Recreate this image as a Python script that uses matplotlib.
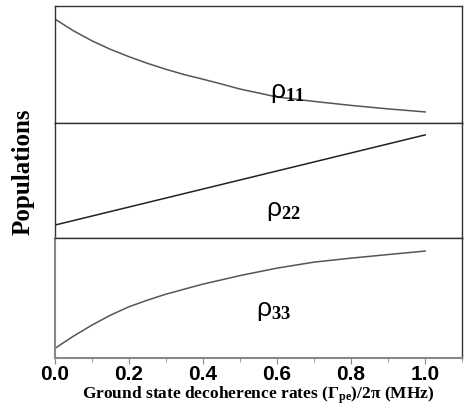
import numpy as np
import matplotlib
matplotlib.use("Agg")
import matplotlib.pyplot as plt
from matplotlib.ticker import MultipleLocator

# Ground state decoherence rate (Gamma_pe / 2pi, MHz)
rate = [0.0, 0.05, 0.1, 0.15, 0.2, 0.25, 0.3, 0.35, 0.4, 0.45, 0.5,
        0.6, 0.7, 0.8, 0.9, 1.0]
# populations (arb. units, each panel on its own scale)
rho11 = [0.889, 0.789, 0.703, 0.630, 0.567, 0.510, 0.459, 0.413, 0.374,
         0.333, 0.290, 0.222, 0.184, 0.150, 0.120, 0.094]
rho22_rate = [0.0, 1.0]
rho22 = [0.113, 0.896]
rho33 = [0.081, 0.183, 0.275, 0.358, 0.428, 0.483, 0.533, 0.575, 0.617,
         0.652, 0.688, 0.750, 0.800, 0.833, 0.863, 0.892]

plt.rcParams['mathtext.fontset'] = 'custom'
plt.rcParams['mathtext.rm'] = 'Liberation Serif'
plt.rcParams['mathtext.bf'] = 'Liberation Serif:bold'
plt.rcParams['mathtext.it'] = 'Liberation Serif:italic'
plt.rcParams['mathtext.sf'] = 'Liberation Sans'

fig = plt.figure(figsize=(4.65, 4.07), dpi=100)
L, W = 0.118, 0.876
ax1 = fig.add_axes([L, 0.698, W, 0.287])
ax2 = fig.add_axes([L, 0.415, W, 0.283])
ax3 = fig.add_axes([L, 0.120, W, 0.295])

ax1.plot(rate, rho11, color='#555555', lw=1.1)
ax2.plot(rho22_rate, rho22, color='#222222', lw=1.1)
ax3.plot(rate, rho33, color='#555555', lw=1.1)

ax1.text(0.627, 0.265, r'$\mathsf{\rho}_{\mathbf{11}}$', fontsize=19, ha='center', va='center')
ax2.text(0.616, 0.243, r'$\mathsf{\rho}_{\mathbf{22}}$', fontsize=19, ha='center', va='center')
ax3.text(0.590, 0.400, r'$\mathsf{\rho}_{\mathbf{33}}$', fontsize=19, ha='center', va='center')

for ax in (ax1, ax2, ax3):
    ax.set_xlim(0, 1.1)
    ax.set_ylim(0, 1)
    ax.set_yticks([])
    for s in ax.spines.values():
        s.set_color('#333333')
        s.set_linewidth(1.0)

for ax in (ax1, ax2):
    ax.set_xticks([])

ax3.spines['left'].set_color('#888888')
ax3.spines['left'].set_linewidth(1.5)
ax3.spines['bottom'].set_color('#888888')
ax3.spines['bottom'].set_linewidth(1.5)
ax3.xaxis.set_major_locator(MultipleLocator(0.2))
ax3.xaxis.set_minor_locator(MultipleLocator(0.1))
ax3.set_xticks([0.0, 0.2, 0.4, 0.6, 0.8, 1.0])
ax3.tick_params(axis='x', which='major', length=4, color='#888888', pad=1)
ax3.tick_params(axis='x', which='minor', length=3, color='#888888')
for t in ax3.get_xticklabels():
    t.set_fontfamily('Liberation Sans')
    t.set_fontweight('bold')
    t.set_fontsize(15)

ax3.set_xlabel(r'Ground state decoherence rates ($\mathbf{\Gamma}_{\mathbf{pe}}$)/2$\mathbf{\pi}$ (MHz)',
               fontfamily='Liberation Serif', fontweight='bold', fontsize=12.5, labelpad=0)
fig.text(0.05, 0.577, 'Populations', rotation=90, ha='center', va='center',
         fontfamily='Liberation Serif', fontweight='bold', fontsize=18)

fig.savefig('out.png', dpi=100)
